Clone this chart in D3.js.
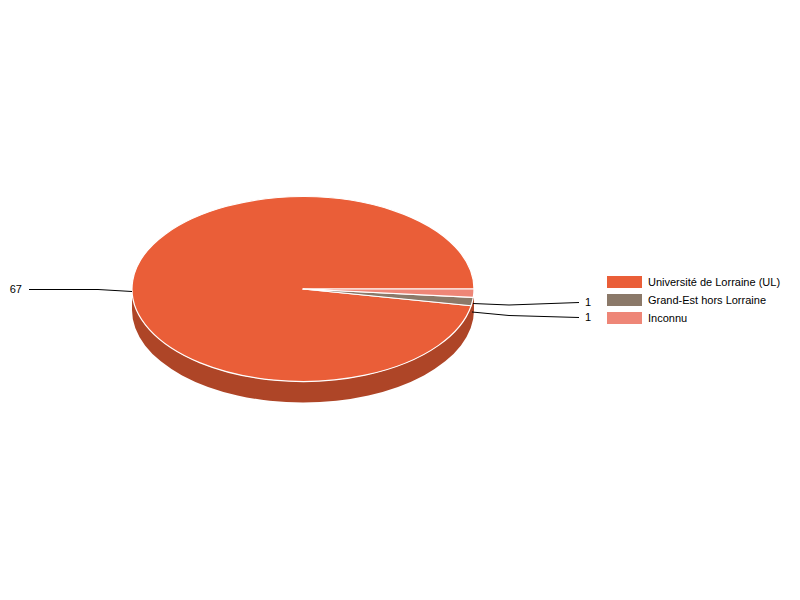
<!doctype html>
<html lang="en">
<head>
    <meta charset="UTF-8">
    <title>Pie</title>
    <style>
        html, body {
            margin: 0;
            background: #fff;
        }

        svg {
            display: block;
        }

        text {
            font-family: 'Liberation Sans', Arial, sans-serif;
            font-size: 11px;
            fill: #000;
        }
    </style>
</head>
<body>
<svg width="800" height="600"></svg>
<script src="https://d3js.org/d3.v7.min.js"></script>
<script>
  const categories = ['Université de Lorraine (UL)', 'Grand-Est hors Lorraine', 'Inconnu']
  const values = [67, 1, 1]
  const topColors = ['#ea5e38', '#8b7969', '#ee8677']
  // the Inconnu wall does not show in the original
  const sideColors = ['#ae4527', '#6f6258', 'none']

  const svg = d3.select('svg')

  const cx = 303, cy = 289, rx = 171, ry = 92.5, depth = 21

  // d3 angles start at 12 o'clock. The pie runs anticlockwise from 3 o'clock
  const slices = d3.pie()
    .sort(null)
    .startAngle(Math.PI / 2)
    .endAngle(Math.PI / 2 - 2 * Math.PI)(values)

  const px = a => cx + rx * Math.sin(a)
  const py = a => cy - ry * Math.cos(a)

  const topPath = d => {
    const large = Math.abs(d.endAngle - d.startAngle) > Math.PI ? 1 : 0
    return `M${cx},${cy}L${px(d.startAngle)},${py(d.startAngle)}` +
      `A${rx},${ry} 0 ${large} 0 ${px(d.endAngle)},${py(d.endAngle)}Z`
  }

  // only the part of a slice facing the viewer has a wall: 3 to 9 o'clock.
  // worked out in clockwise radians from 3 o'clock
  const wallPath = d => {
    const cw = a => Math.PI / 2 - a
    const start = cw(d.startAngle), end = cw(d.endAngle)
    const a = Math.max(start, 0), b = Math.min(end, Math.PI)
    if (b <= a) return ''
    const x0 = cx + rx * Math.cos(a), y0 = cy + ry * Math.sin(a)
    const x1 = cx + rx * Math.cos(b), y1 = cy + ry * Math.sin(b)
    return `M${x0},${y0}A${rx},${ry} 0 0 1 ${x1},${y1}L${x1},${y1 + depth}` +
      `A${rx},${ry} 0 0 0 ${x0},${y0 + depth}Z`
  }

  svg.append('g')
    .selectAll('path')
    .data(slices)
    .enter()
    .append('path')
    .attr('d', wallPath)
    .attr('fill', (d, i) => sideColors[i])

  svg.append('g')
    .selectAll('path')
    .data(slices)
    .enter()
    .append('path')
    .attr('d', topPath)
    .attr('fill', (d, i) => topColors[i])
    .attr('stroke', '#fff')
    .attr('stroke-width', 1.2)
    .attr('stroke-linejoin', 'round')

  // leader lines, pixel offsets from the pie centre
  const leaders = [
    {points: [[-171, 2.5], [-205, 0.5], [-274, 0.5]], anchor: 'end', labelX: -281, labelY: 4},
    {points: [[170, 14.5], [206, 16], [276, 13.5]], anchor: 'start', labelX: 282, labelY: 17},
    {points: [[169, 23], [206, 26.5], [276, 28.5]], anchor: 'start', labelX: 282, labelY: 32}
  ]

  const line = d3.line()
    .x(p => cx + p[0])
    .y(p => cy + p[1])

  const labels = svg.append('g')

  labels.selectAll('path')
    .data(leaders)
    .enter()
    .append('path')
    .attr('d', d => line(d.points))
    .attr('fill', 'none')
    .attr('stroke', '#000')
    .attr('stroke-width', 1)

  labels.selectAll('text')
    .data(leaders)
    .enter()
    .append('text')
    .attr('x', d => cx + d.labelX)
    .attr('y', d => cy + d.labelY)
    .attr('text-anchor', d => d.anchor)
    .text((d, i) => values[i])

  const legendY = d3.scalePoint()
    .domain(categories)
    .range([282, 318])

  const legend = svg.append('g')
    .selectAll('g')
    .data(categories)
    .enter()
    .append('g')
    .attr('transform', d => `translate(607, ${legendY(d)})`)

  legend.append('rect')
    .attr('y', -6)
    .attr('width', 35)
    .attr('height', 12)
    .attr('fill', (d, i) => topColors[i])

  legend.append('text')
    .attr('x', 41)
    .attr('y', 4)
    .text(d => d)
</script>
</body>
</html>
